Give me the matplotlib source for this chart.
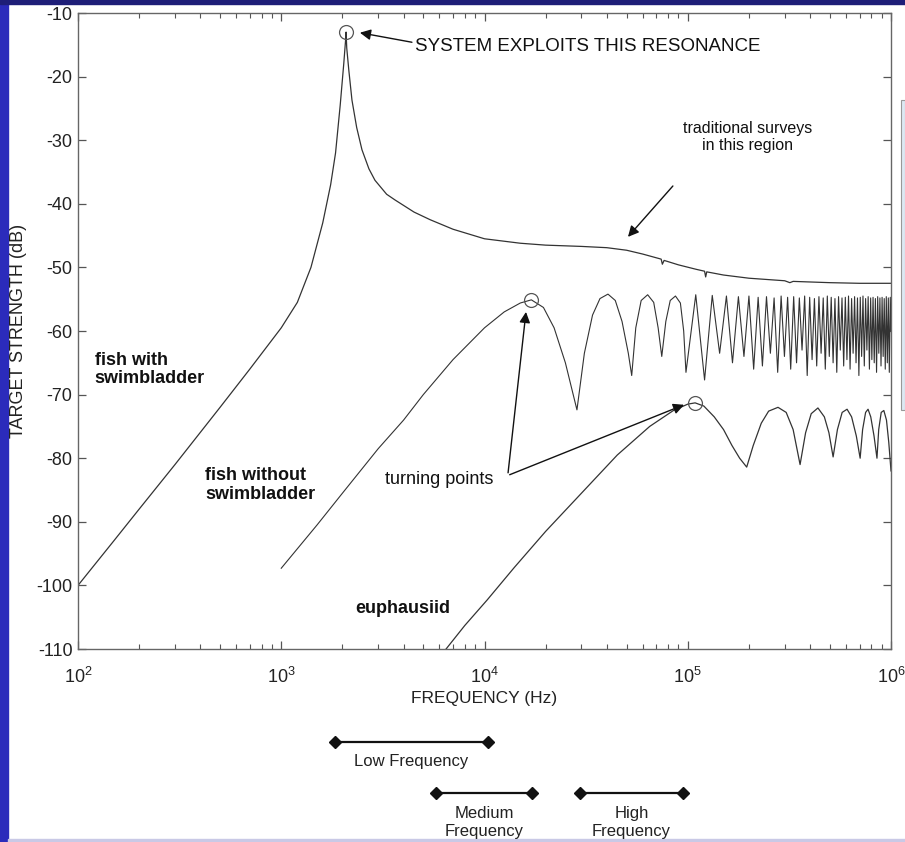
import matplotlib
matplotlib.use("Agg")
import matplotlib.pyplot as plt
import matplotlib.transforms as mtransforms
from matplotlib.patches import Rectangle
import numpy as np

plt.rcParams['font.family'] = ['Liberation Sans', 'DejaVu Sans']
plt.rcParams['mathtext.fontset'] = 'custom'
plt.rcParams['mathtext.rm'] = 'Liberation Sans'
plt.rcParams['mathtext.it'] = 'Liberation Sans:italic'
plt.rcParams['axes.unicode_minus'] = False

# fish with swimbladder (Hz, dB)
sb_f = [100, 150, 200, 300, 500, 700, 1000, 1200, 1400, 1600, 1750, 1850, 1950, 2030, 2070,
        2084, 2100, 2150, 2228, 2350, 2495, 2700, 2891, 3300, 3630, 4500, 5400, 7000, 10000,
        15000, 20000, 30000, 40000, 50000, 60000, 74000, 75000, 76500, 90000,
        110000, 121000, 122500, 124000, 150000, 200000, 300000, 318000, 330000, 500000,
        700000, 1000000]
sb_db = [-100, -93, -88, -81, -72, -66, -59.5, -55.5, -50, -43, -37, -32, -24.5, -18, -14.5,
         -13, -15.5, -19, -23.7, -28, -31.5, -34.5, -36.3, -38.5, -39.4, -41.3, -42.5, -44, -45.5,
         -46.2, -46.5, -46.7, -46.9, -47.3, -47.9, -48.7, -49.5, -48.9, -49.6,
         -50.3, -50.6, -51.5, -50.7, -51.2, -51.7, -52.1, -52.4, -52.2, -52.4,
         -52.5, -52.5]

# fish without swimbladder: smooth part up to 98 kHz
nsb_f = [1000, 1500, 2000, 3000, 4000, 5000, 7000, 10000, 12500, 15000, 17000, 19500, 22000,
         25000, 28500, 31000, 34000, 37000, 40500, 44000, 47500, 51000, 53000, 55500, 59000,
         63500, 68000, 71500, 74500, 78000, 82000, 87000, 92000, 95500, 98000]
nsb_db = [-97.3, -90.5, -85.5, -78.5, -74, -70, -64.5, -59.5, -57, -55.6, -55.1, -56.3, -59.5,
          -65, -72.4, -63.5, -57.5, -54.9, -54.2, -55.2, -58.5, -63.5, -67, -59.5, -55.2,
          -54.3, -55.5, -59.5, -64, -58.5, -55.2, -54.5, -55.6, -60, -66.5]
# dense lobes above 100 kHz (kHz)
lobe_peak_f = [109.5, 132, 155, 177.5, 200, 222, 244, 266, 288, 310, 332, 354, 376, 398, 420,
               442, 464, 486, 508, 530, 552, 574, 596, 618, 640, 662, 684, 706, 728, 750, 772,
               794, 816, 838, 860, 882, 904, 926, 948, 970, 992]
lobe_peak_db = [-54.3, -54.4, -54.5, -54.6, -54.5, -54.7, -54.6, -54.8, -54.5, -54.7, -54.6,
                -54.8, -54.5, -54.7, -54.9, -54.6, -54.8, -54.5, -54.7, -54.9, -54.6, -54.8,
                -54.7, -54.5, -54.9, -54.6, -54.8, -54.7, -54.5, -54.9, -54.6, -54.8, -54.7,
                -54.9, -54.6, -54.8, -54.7, -54.9, -54.6, -54.8, -54.7]
lobe_trough_f = [121, 143.5, 166, 189, 211, 233, 255, 277, 299, 321, 343, 365, 387, 409, 431,
                 453, 475, 497, 519, 541, 563, 585, 607, 629, 651, 673, 695, 717, 739, 761,
                 783, 805, 827, 849, 871, 893, 915, 937, 959, 981]
lobe_trough_db = [-67.7, -63.5, -65, -64, -66, -65.5, -63.5, -66.5, -64, -66, -65, -63, -67,
                  -64.5, -65.5, -63.5, -66, -64, -65, -66.5, -63, -65.5, -64.5, -66, -63.5,
                  -65, -67, -64, -65.5, -63, -66, -64.5, -65, -66.5, -63.5, -65.5, -64, -66,
                  -65, -66.5]
nsb_end = (1000000, -60)

# euphausiid
eu_f = [6470, 8000, 10300, 14000, 20000, 30000, 45000, 65000, 85000, 100000, 108700, 120000,
        135000, 150000, 165000, 180000, 195000, 210000, 230000, 250000, 278000, 305000,
        330000, 357000, 380000, 405000, 437000, 470000, 495000, 519000, 545000, 575000,
        608000, 640000, 675000, 705000, 725000, 750000, 771000, 795000, 825000, 853000,
        870000, 895000, 922000, 950000, 975000, 1000000]
eu_db = [-110, -106.3, -102.3, -97.2, -91.5, -85.5, -79.5, -75, -72.5, -71.5, -71.3, -71.8,
         -73.5, -75.5, -78, -80, -81.4, -78, -74.5, -72.6, -72, -72.8,
         -75.5, -81, -76, -73, -72.1, -73.5, -76, -79.8, -75.5, -72.8,
         -72.3, -73.5, -76.5, -80, -75.5, -72.8, -72.3, -73.5, -76.5, -80,
         -75.5, -72.8, -72.5, -74, -77.5, -82]

# survey bands (Hz)
bands = [("Low Frequency", 1837, 10400, "low"),
         ("Medium\nFrequency", 5770, 17100, "mid"),
         ("High\nFrequency", 29500, 94800, "mid")]

# assemble the dense curve
dense = sorted([(f * 1000, d) for f, d in zip(lobe_peak_f, lobe_peak_db)] +
               [(f * 1000, d) for f, d in zip(lobe_trough_f, lobe_trough_db)])
nsb_all_f = nsb_f + [p[0] for p in dense] + [nsb_end[0]]
nsb_all_db = nsb_db + [p[1] for p in dense] + [nsb_end[1]]

fig = plt.figure(figsize=(9.05, 8.42), dpi=100, facecolor='white')
ax = fig.add_axes([78 / 905, 1 - 649 / 842, 813 / 905, 636 / 842])

line_c = '#333333'
ax.plot(sb_f, sb_db, color=line_c, lw=0.9)
ax.plot(nsb_all_f, nsb_all_db, color=line_c, lw=0.8)
ax.plot(eu_f, eu_db, color=line_c, lw=0.9)

# turning point circles
i_sb = int(np.argmax(sb_db))
i_nsb = nsb_f.index(17000)
i_eu = int(np.argmax(eu_db))
circ = [(sb_f[i_sb], sb_db[i_sb]), (nsb_f[i_nsb], nsb_db[i_nsb]), (eu_f[i_eu], eu_db[i_eu])]
for cf, cd in circ:
    ax.plot(cf, cd, 'o', ms=10, mfc='none', mec='#555555', mew=0.9)

ax.set_xscale('log')
ax.set_xlim(1e2, 1e6)
ax.set_ylim(-110, -10)
ax.set_yticks(np.arange(-110, -9, 10))
ax.set_xticks([1e2, 1e3, 1e4, 1e5, 1e6])
ax.set_xticklabels([r'$10^{2}$', r'$10^{3}$', r'$10^{4}$', r'$10^{5}$', r'$10^{6}$'])
ax.tick_params(which='both', direction='in', top=True, right=True, colors='#555555',
               labelcolor='#222222', labelsize=13)
ax.tick_params(which='major', length=6, width=0.9)
ax.tick_params(which='minor', length=3.5, width=0.8)
ax.tick_params(axis='x', pad=13)
ax.tick_params(axis='y', pad=4)
for s in ax.spines.values():
    s.set_color('#666666')
    s.set_linewidth(1.0)

ax.set_xlabel('FREQUENCY (Hz)', fontsize=12.5, color='#222222', labelpad=3)
ax.set_ylabel('TARGET STRENGTH (dB)', fontsize=13, color='#222222')
ax.yaxis.set_label_coords(-0.0627, 0.5)

arrow = dict(arrowstyle='-|>', color='#111111', lw=1.0, mutation_scale=16, shrinkA=0, shrinkB=0)

ax.annotate('', xy=(2438, -13.1), xytext=(4395, -14.6), arrowprops=arrow)
ax.text(4550, -15.2, 'SYSTEM EXPLOITS THIS RESONANCE', fontsize=13.5, va='center',
        ha='left', color='#111111')

ax.annotate('', xy=(50800, -45.2), xytext=(84500, -37.2), arrowprops=arrow)
ax.text(197800, -29.5, 'traditional surveys\nin this region', fontsize=11.5, ha='center',
        va='center', color='#111111', linespacing=1.15)

ax.text(121, -66.1, 'fish with\nswimbladder', fontsize=13, fontweight='bold', ha='left',
        va='center', color='#111111', linespacing=1.1)
ax.text(422, -84.2, 'fish without\nswimbladder', fontsize=13, fontweight='bold', ha='left',
        va='center', color='#111111', linespacing=1.15)
ax.text(2307, -103.6, 'euphausiid', fontsize=13, fontweight='bold', ha='left',
        va='center', color='#111111')

ax.text(3236, -83.4, 'turning points', fontsize=13, ha='left', va='center', color='#111111')
ax.annotate('', xy=(16000, -57.0), xytext=(13060, -82.3), arrowprops=arrow)
ax.annotate('', xy=(95900, -71.6), xytext=(13300, -82.6), arrowprops=arrow)

# frequency bands below the axis
blend = mtransforms.blended_transform_factory(ax.transData, ax.transAxes)
for label, f0, f1, row in bands:
    yb = -0.1462 if row == 'low' else -0.2264
    yt = -0.1770 if row == 'low' else -0.2730
    ax.plot([f0, f1], [yb, yb], color='#111111', lw=1.6, marker='D', ms=6,
            transform=blend, clip_on=False)
    ax.text(np.sqrt(f0 * f1), yt, label, transform=blend, ha='center', va='center',
            fontsize=12, color='#222222', linespacing=1.3)

# slide background pieces
fig.add_artist(Rectangle((0, 0), 8 / 905, 1, transform=fig.transFigure,
                         color='#2b2bbb', zorder=-1))
fig.add_artist(Rectangle((0, 1 - 4 / 842), 1, 4 / 842, transform=fig.transFigure,
                         color='#1e1e78', zorder=-1))
fig.add_artist(Rectangle((8 / 905, 0), 1, 3 / 842, transform=fig.transFigure,
                         color='#c9c9e6', zorder=-1))
fig.add_artist(Rectangle((901 / 905, 1 - 410 / 842), 4 / 905, 310 / 842,
                         transform=fig.transFigure, facecolor='#dde9f3',
                         edgecolor='#999999', lw=0.8, zorder=-1))

fig.savefig('out.png', dpi=100, facecolor=fig.get_facecolor())
